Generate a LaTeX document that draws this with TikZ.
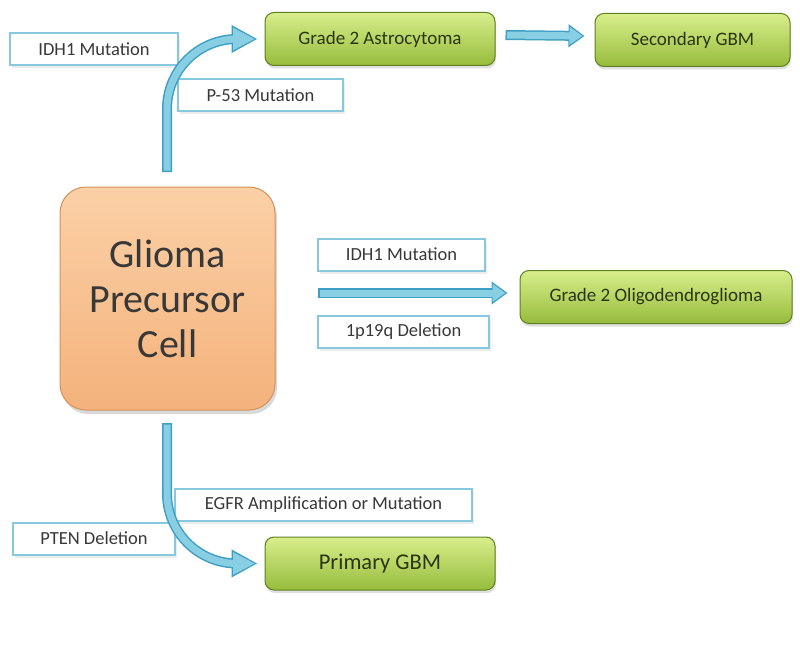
\documentclass[tikz,border=0pt]{standalone}
\usepackage{fontspec}
\setmainfont{Carlito}
\usetikzlibrary{arrows.meta, shadows}

\definecolor{arrlight}{HTML}{88CFE4}
\definecolor{arrdark}{HTML}{3E9FC4}
\definecolor{lblline}{HTML}{86C9DE}
\definecolor{grntop}{HTML}{D8EE8C}
\definecolor{grnbot}{HTML}{96BC3C}
\definecolor{grnline}{HTML}{5F8020}
\definecolor{grntext}{HTML}{2A3510}
\definecolor{orgtop}{HTML}{FBD0A6}
\definecolor{orgbot}{HTML}{F4B27C}
\definecolor{orgline}{HTML}{D3925A}

\begin{document}
\begin{tikzpicture}[x=1pt, y=-1pt,
	every node/.style={font=\fontsize{18.5}{22}\selectfont, text=black!78},
	lbl/.style={draw=lblline, line width=2pt, fill=white, minimum height=32pt, inner sep=0pt,
		drop shadow={opacity=0.15, shadow xshift=2pt, shadow yshift=-3pt}},
	stage/.style={draw=grnline, line width=1pt, rounded corners=9pt, top color=grntop, bottom color=grnbot,
		minimum height=53pt, inner sep=0pt, text=grntext,
		drop shadow={opacity=0.25, shadow xshift=1pt, shadow yshift=-3pt}},
	arrout/.style={draw=arrdark, line width=10pt, -{Triangle[length=26pt, width=26pt]}},
	arrin/.style={draw=arrlight, line width=7pt, shorten <=1.5pt, shorten >=2.5pt, -{Triangle[length=22pt, width=21pt]}}]
		\useasboundingbox (0, 0) rectangle (800, 650);
		
		% precursor cell
		\node[draw=orgline, line width=1pt, rounded corners=26pt, top color=orgtop, bottom color=orgbot,
			minimum width=215pt, minimum height=223pt, inner sep=0pt, align=center,
			font=\fontsize{40}{45}\selectfont, text=black!78,
			drop shadow={opacity=0.3, shadow xshift=2pt, shadow yshift=-4pt}] (cell) at (167.5, 298.5) {Glioma\\Precursor\\Cell};
		
		% tumour stages
		\node[stage, minimum width=230pt, font=\fontsize{19}{23}\selectfont] (astro) at (380, 39) {Grade 2 Astrocytoma};
		\node[stage, minimum width=195pt, font=\fontsize{19}{23}\selectfont] (sgbm) at (692.5, 40) {Secondary GBM};
		\node[stage, minimum width=272pt, font=\fontsize{19}{23}\selectfont] (oligo) at (656, 297) {Grade 2 Oligodendroglioma};
		\node[stage, minimum width=230pt, font=\fontsize{22.5}{27}\selectfont] (pgbm) at (380, 563.5) {Primary GBM};
		
		% mutation labels
		\node[lbl, minimum width=168pt] (idha) at (94, 49.5) {IDH1 Mutation};
		\node[lbl, minimum width=165pt] (p53) at (260.5, 95.5) {P-53 Mutation};
		\node[lbl, minimum width=167pt] (idhb) at (401.5, 254.5) {IDH1 Mutation};
		\node[lbl, minimum width=171pt] (del) at (403.5, 332) {1p19q Deletion};
		\node[lbl, minimum width=297pt] (egfr) at (323.5, 505) {EGFR Amplification or Mutation};
		\node[lbl, minimum width=162pt] (pten) at (94, 538.5) {PTEN Deletion};
		
		\coordinate (up) at (167, 172);
		\coordinate (down) at (167, 423);
		\coordinate (mid) at (318, 293);
		
		\draw[arrout, rounded corners=70pt] (up) |- ([xshift=-7pt]astro.west);
		\draw[arrin, rounded corners=70pt] (up) |- ([xshift=-7pt]astro.west);
		\draw[arrout, rounded corners=70pt] (down) |- ([xshift=-7pt]pgbm.west);
		\draw[arrin, rounded corners=70pt] (down) |- ([xshift=-7pt]pgbm.west);
		\draw[arrout, -{Triangle[length=16pt, width=22pt]}] (mid) -- ([xshift=-12pt]oligo.west |- mid);
		\draw[arrin, -{Triangle[length=13pt, width=17pt]}, shorten >=2pt] (mid) -- ([xshift=-12pt]oligo.west |- mid);
		\draw[arrout, -{Triangle[length=16pt, width=22pt]}] ([xshift=10pt, yshift=4pt]astro.east) -- ([xshift=-10pt, yshift=4pt]sgbm.west);
		\draw[arrin, -{Triangle[length=13pt, width=17pt]}, shorten >=2pt] ([xshift=10pt, yshift=4pt]astro.east) -- ([xshift=-10pt, yshift=4pt]sgbm.west);
	\end{tikzpicture}
\end{document}
